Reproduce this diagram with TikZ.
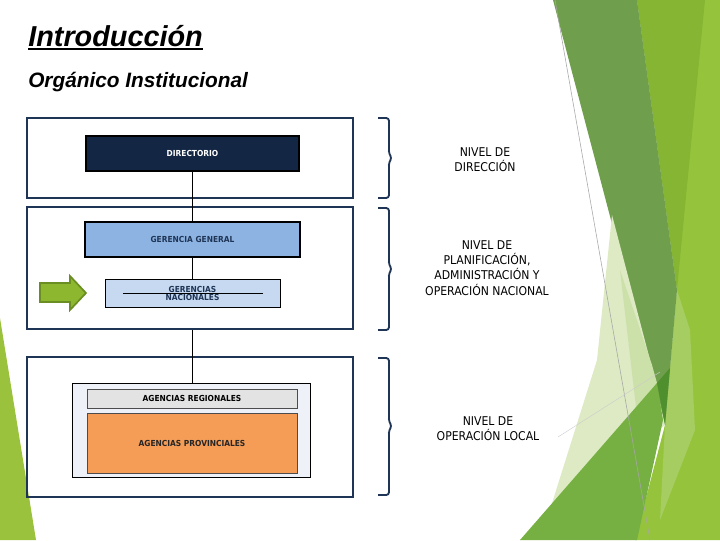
\documentclass[tikz,border=0pt]{standalone}
\usepackage{fontspec}
\setmainfont{Liberation Sans}
\newfontfamily\lblfont{DejaVu Sans Condensed}
\usetikzlibrary{calc}

\definecolor{navy}{HTML}{1F3556}
\definecolor{dirblue}{HTML}{132744}
\definecolor{ggblue}{HTML}{8DB3E2}
\definecolor{gnblue}{HTML}{C6D9F1}
\definecolor{agback}{HTML}{EEF1F7}
\definecolor{aggrey}{HTML}{E3E3E3}
\definecolor{agorange}{HTML}{F59D56}
\definecolor{arrowgreen}{HTML}{8DB72F}
\definecolor{arrowedge}{HTML}{6B8E23}
% facet greens
\definecolor{facetA}{HTML}{95C43C}
\definecolor{facetB}{HTML}{86B534}
\definecolor{facetC}{HTML}{A6CD62}
\definecolor{facetD}{HTML}{6F9E4C}
\definecolor{facetE}{HTML}{DDEAC4}
\definecolor{facetF}{HTML}{CCE0AA}
\definecolor{facetG}{HTML}{76B043}
\definecolor{facetH}{HTML}{4F8F2E}
\definecolor{facetI}{HTML}{9BC23C}

\newcommand\ulined[1]{\leavevmode\vtop{\hbox{#1}\kern1.2pt\hrule height 1.4pt}}

\tikzset{
  frame/.style={draw=navy, line width=2pt, minimum width=8.15cm},
  unit/.style={inner sep=0pt, font=\lblfont\bfseries\fontsize{5.9}{5.7}\selectfont, align=center, text=navy},
  brace/.style={draw=navy, line width=1.3pt, rounded corners=2pt},
  level/.style={font=\lblfont\fontsize{8.6}{10.9}\selectfont, align=center, text=black}
}

\begin{document}
\begin{tikzpicture}[x=0.025cm, y=-0.025cm]
	\useasboundingbox (0,0) rectangle (720,540);
	% facet decoration
	\fill[facetA] (637,0) -- (720,0) -- (720,540) -- (635,540) -- (665,425) -- (677,290) -- cycle;
	\fill[facetB] (637,0) -- (705,0) -- (677,290) -- cycle;
	\fill[facetC] (677,290) -- (690,330) -- (695,430) -- (660,520) -- (665,425) -- cycle;
	\fill[facetD] (553,0) -- (637,0) -- (677,290) -- (665,425) -- cycle;
	\fill[facetE] (612,215) -- (650,360) -- (665,425) -- (545,528) -- (553,500) -- (597,360) -- cycle;
	\fill[facetF] (620,270) -- (652,365) -- (657,383) -- (636,407) -- cycle;
	\fill[facetG] (520,540) -- (657,383) -- (663,420) -- (637,540) -- cycle;
	\fill[facetH] (657,383) -- (670,368) -- (665,425) -- cycle;
	\draw[gray!70, line width=0.4pt] (555,0) -- (650,540);
	\draw[gray!40, line width=0.3pt] (558,437) -- (660,372);
	\fill[facetI] (0,318) -- (0,540) -- (36,540) -- cycle;

	% titles
	\node[anchor=base west, inner sep=0pt, font=\bfseries\itshape\fontsize{20.5}{24}\selectfont] (title) at (28,46) {\ulined{Introducción}};
	\node[anchor=base west, inner sep=0pt, font=\bfseries\itshape\fontsize{14.8}{18}\selectfont] (subtitle) at (28,87) {Orgánico Institucional};

	% level frames and braces
	\foreach \n/\y/\h in {1/158/2.0, 2/268/3.05, 3/427/3.5}
		\node[frame, minimum height=\h cm] (lvl\n) at (190,\y) {};
	\foreach \t/\m/\b in {118/158/198, 208/269/330, 358/426/495}
		\draw[brace] (378,\t) -- (389,\t) -- (389,\m-4) -- (392,\m) -- (389,\m+4) -- (389,\b) -- (378,\b);

	% units
	\node[unit, draw=black, line width=1pt, fill=dirblue, text=white, minimum width=5.325cm, minimum height=0.875cm] (dir) at (192.5,153.5) {DIRECTORIO};
	\node[unit, draw=black, line width=1.2pt, fill=ggblue, minimum width=5.375cm, minimum height=0.875cm] (gg) at (192.5,239.5) {GERENCIA GENERAL};
	\node[unit, draw=black, line width=0.6pt, fill=gnblue, minimum width=4.375cm, minimum height=0.7cm] (gn) at (192.5,293) {GERENCIAS\\NACIONALES};
	\draw[black, line width=0.6pt] (123,293) -- (263,293);
	\node[draw=black, line width=0.6pt, fill=agback, minimum width=5.95cm, minimum height=2.35cm] (ag) at (191,430) {};
	\node[unit, draw=black!70, line width=0.6pt, fill=aggrey, text=black, minimum width=5.25cm, minimum height=0.475cm] (agr) at (192,398.5) {AGENCIAS REGIONALES};
	\node[unit, draw=black!70, line width=0.6pt, fill=agorange, text=black!85, minimum width=5.25cm, minimum height=1.5cm] (agp) at (192,443) {AGENCIAS PROVINCIALES};

	% connectors
	\draw[black, line width=0.8pt] (dir.south) -- (gg.north);
	\draw[black, line width=0.8pt] (gg.south) -- (gn.north);
	\draw[black, line width=0.8pt] (gn.south |- lvl2.south) -- (gn.south |- ag.north);

	% arrow
	\filldraw[fill=arrowgreen, draw=arrowedge, line width=1.2pt] (40,283) -- (70,283) -- (70,276) -- (86,293) -- (70,310) -- (70,302) -- (40,302) -- cycle;

	% level labels
	\node[level] (lbl1) at (485,160) {NIVEL DE\\DIRECCIÓN};
	\node[level] (lbl2) at (487,268) {NIVEL DE\\PLANIFICACIÓN,\\ADMINISTRACIÓN Y\\OPERACIÓN NACIONAL};
	\node[level] (lbl3) at (488,428.5) {NIVEL DE\\OPERACIÓN LOCAL};
\end{tikzpicture}
\end{document}
